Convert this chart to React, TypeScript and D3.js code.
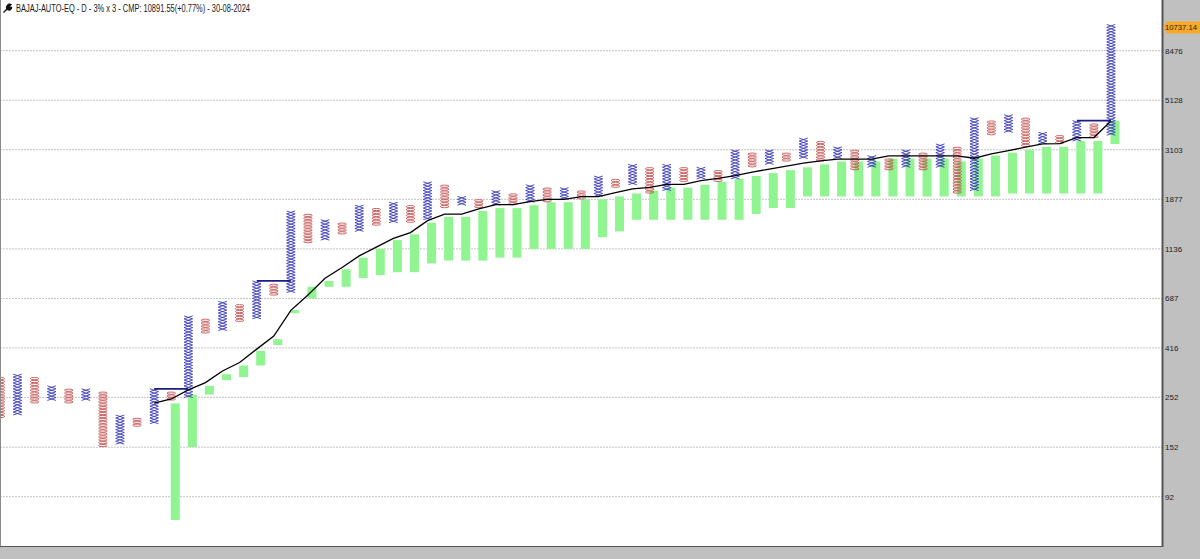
import React from 'react';
import * as d3 from 'd3';

// ---------- data ----------
const TITLE = 'BAJAJ-AUTO-EQ - D - 3% x 3 - CMP: 10891.55(+0.77%) - 30-08-2024';
const BOX_PCT = 3;
const LAST_PRICE = 10737.14;
const LAST_LABEL = '10737.14';
const TICKS = [92, 152, 252, 416, 687, 1136, 1877, 3103, 5128, 8476];

// column types (O = falling, X = rising), one per column
const COL_TYPE = 'OXOXOXOXOXOXOXOXOXOXOXOXOXOXOXOXOXOXOXOXOXOXOXOXOXOXOXOXOXOXOXOXOX';
// lowest and highest box value of every column
const COL_LOW = [
  204.5, 210.7, 237.1, 244.2, 237.1, 244.2, 152.2, 156.7, 187.2, 192.8,
  244.2, 251.5, 482.0, 496.4, 542.4, 558.7, 707.8, 729.0, 1204.9, 1241.1,
  1316.6, 1356.1, 1438.7, 1481.8, 1481.8, 1526.3, 1717.9, 1769.5, 1717.9, 1769.5,
  1769.5, 1822.6, 1822.6, 1877.3, 1877.3, 1933.6, 2112.9, 2176.3, 1991.6, 2051.3,
  2241.6, 2308.8, 2241.6, 2308.8, 2598.5, 2676.5, 2756.8, 2839.5, 2756.8, 2839.5,
  2522.8, 2598.5, 2522.8, 2598.5, 2522.8, 2598.5, 1991.6, 2051.3, 3596.9, 3704.8,
  3195.8, 3291.7, 3291.7, 3390.4, 3492.1, 3596.9,
];
const COL_HIGH = [
  300.3, 309.4, 300.3, 274.9, 266.9, 266.9, 259.1, 204.5, 198.6, 266.9,
  259.1, 558.7, 542.4, 647.7, 628.8, 796.6, 773.4, 1619.3, 1572.1, 1481.8,
  1438.7, 1717.9, 1667.8, 1769.5, 1717.9, 2176.3, 2112.9, 1877.3, 1822.6, 1991.6,
  1933.6, 2112.9, 2051.3, 2051.3, 1991.6, 2308.8, 2241.6, 2598.5, 2522.8, 2598.5,
  2522.8, 2522.8, 2449.3, 3012.4, 2924.6, 3012.4, 2924.6, 3390.4, 3291.7, 3102.8,
  3012.4, 2839.5, 2756.8, 3012.4, 2924.6, 3195.8, 3102.8, 4169.8, 4048.3, 4295.0,
  4169.8, 3596.9, 3492.1, 4048.3, 3930.4, 10737.14,
];

// green band, from column 10 onward
const GREEN_START = 10;
const GREEN_HIGH = [
  237.1, 259.1, 283.1, 318.6, 348.2, 403.6, 454.3, 610.5, 773.4, 820.5,
  923.5, 1039.4, 1135.7, 1241.1, 1316.6, 1481.8, 1572.1, 1572.1, 1667.8, 1717.9,
  1717.9, 1769.5, 1822.6, 1822.6, 1877.3, 1877.3, 1933.6, 1991.6, 2051.3, 2112.9,
  2112.9, 2176.3, 2241.6, 2308.8, 2378.0, 2449.3, 2522.8, 2598.5, 2676.5, 2756.8,
  2756.8, 2756.8, 2839.5, 2839.5, 2839.5, 2839.5, 2756.8, 2839.5, 2924.6, 3012.4,
  3102.8, 3195.8, 3195.8, 3390.4, 3390.4, 4169.8,
];
const GREEN_LOW = [
  72.7, 152.2, 259.1, 300.3, 309.4, 348.2, 428.2, 592.7, 687.2, 773.4,
  773.4, 845.1, 870.5, 896.6, 896.6, 979.7, 1009.1, 1009.1, 1009.1, 1039.4,
  1039.4, 1135.7, 1135.7, 1135.7, 1135.7, 1278.3, 1356.1, 1526.3, 1526.3, 1526.3,
  1526.3, 1526.3, 1526.3, 1526.3, 1619.3, 1717.9, 1717.9, 1933.6, 1933.6, 1933.6,
  1933.6, 1933.6, 1933.6, 1933.6, 1933.6, 1933.6, 1933.6, 1933.6, 1933.6, 1991.6,
  1991.6, 1991.6, 1991.6, 1991.6, 1991.6, 3291.7,
];

// black average line, from column 9 onward
const LINE_START = 9;
const LINE_VALUES = [
  237.4, 247.8, 271.6, 292.5, 329.2, 358.6, 410.9, 469.3, 608.7, 712.0, 842.6,
  940.0, 1058.0, 1156.0, 1263.3, 1340.2, 1512.8, 1614.5, 1614.5, 1702.7, 1780.0,
  1780.0, 1833.4, 1877.3, 1877.3, 1927.9, 1927.9, 2009.3, 2088.0, 2119.2, 2185.0,
  2185.0, 2268.3, 2322.5, 2385.0, 2471.1, 2552.8, 2629.4, 2708.4, 2773.1, 2822.8,
  2822.8, 2822.8, 2915.9, 2915.9, 2915.9, 2915.9, 2915.9, 2847.9, 2976.9, 3075.4,
  3186.4, 3291.7, 3301.4, 3512.8, 3512.8, 4157.5,
];

// breakout lines (from column, to column, level)
const BREAK_FROM = [9, 15, 63];
const BREAK_TO = [11, 17, 65];
const BREAK_LEVEL = [274.85, 820.5, 4169.8];

// ---------- layout ----------
const W = 1200;
const H = 559;
const PLOT_R = 1162;
const PLOT_B = 546;

export default function App() {
  const step = 1 + BOX_PCT / 100;
  const x = d3.scaleLinear().domain([0, COL_TYPE.length - 1]).range([0.4, 1111]);
  const y = d3.scaleLog().domain([92, 8476]).range([496.7, 50.7]);
  const hw = 4.3;

  const glyphs: React.ReactNode[] = [];
  for (let i = 0; i < COL_TYPE.length; i++) {
    const t = COL_TYPE[i];
    const lo = COL_LOW[i];
    const hi = COL_HIGH[i];
    const n = Math.round(Math.log(hi / lo) / Math.log(step)) + 1;
    const xc = x(i);
    if (t === 'X') {
      let d = '';
      for (let b = 0; b < n; b++) {
        const v = lo * Math.pow(step, b);
        const y0 = y(v);
        const y1 = y(v * step);
        d += `M${xc - hw},${y0}L${xc + hw},${y1}M${xc - hw},${y1}L${xc + hw},${y0}`;
      }
      glyphs.push(<path key={'c' + i} d={d} stroke="#3b3bb8" strokeWidth={0.9} fill="none" />);
    } else {
      const rings: React.ReactNode[] = [];
      for (let b = 0; b < n; b++) {
        const v = lo * Math.pow(step, b);
        const y0 = y(v);
        const y1 = y(v * step);
        rings.push(
          <ellipse key={b} cx={xc} cy={(y0 + y1) / 2} rx={hw} ry={Math.max((y0 - y1) / 2 - 0.35, 0.5)}
            stroke="#c24a4a" strokeWidth={0.85} fill="none" />
        );
      }
      glyphs.push(<g key={'c' + i}>{rings}</g>);
    }
  }

  const green = GREEN_HIGH.map((hv, j) => {
    const i = GREEN_START + j;
    const xc = x(i);
    const yt = y(hv);
    const yb = y(GREEN_LOW[j]);
    return <rect key={'g' + i} x={xc - 0.5} y={yt} width={9} height={Math.max(yb - yt, 1)} fill="#90f590" />;
  });

  const line = d3.line<number>()
    .x((_, j) => x(LINE_START + j))
    .y((v) => y(v));

  const lastY = y(LAST_PRICE);

  return (
    <svg width={W} height={H} style={{ position: 'fixed', left: 0, top: 0, display: 'block' }}
      fontFamily="'Liberation Sans', Arial, sans-serif">
      <rect x={0} y={0} width={W} height={H} fill="#c0c0c0" />
      <rect x={0} y={0} width={PLOT_R} height={PLOT_B} fill="#ffffff" />
      {TICKS.map((t) => (
        <line key={'gl' + t} x1={0} x2={PLOT_R} y1={y(t)} y2={y(t)} stroke="#c4c4c4" strokeWidth={1} strokeDasharray="2,1" />
      ))}
      {green}
      {glyphs}
      <path d={line(LINE_VALUES) || ''} stroke="#000" strokeWidth={1.3} fill="none" />
      {BREAK_FROM.map((f, k) => (
        <line key={'b' + k} x1={x(f)} x2={x(BREAK_TO[k])} y1={y(BREAK_LEVEL[k])} y2={y(BREAK_LEVEL[k])}
          stroke="#1c1c86" strokeWidth={1.8} />
      ))}
      {/* frame */}
      <line x1={0.5} x2={0.5} y1={0} y2={PLOT_B} stroke="#8a8a8a" strokeWidth={1} />
      <line x1={PLOT_R + 0.5} x2={PLOT_R + 0.5} y1={0} y2={PLOT_B + 1} stroke="#555" strokeWidth={2} />
      <line x1={0} x2={PLOT_R} y1={PLOT_B + 0.5} y2={PLOT_B + 0.5} stroke="#555" strokeWidth={1} />
      {/* axis labels */}
      {TICKS.map((t) => (
        <text key={'tl' + t} x={1165} y={y(t) + 3} fontSize={8} fill="#222">{t}</text>
      ))}
      {/* last price tag */}
      <path d={`M${PLOT_R + 1},${lastY} L${PLOT_R + 5},${lastY - 6} L${W},${lastY - 6} L${W},${lastY + 6} L${PLOT_R + 5},${lastY + 6} Z`} fill="#f7a826" />
      <text x={1165} y={lastY + 3} fontSize={8} fill="#222" textLength={32} lengthAdjust="spacingAndGlyphs">{LAST_LABEL}</text>
      {/* title */}
      <path d="M3.5,12.5 L8.5,7.5 M7.5,5.5 a2.5,2.5 0 1 0 4,2 L10,7.5 L9.5,6 L11,4.5 a2.5,2.5 0 0 0 -3.5,1z"
        stroke="#111" strokeWidth={1.4} fill="#111" />
      <text x={16} y={11.5} fontSize={10} fill="#1a1a1a" textLength={234} lengthAdjust="spacingAndGlyphs">{TITLE}</text>
    </svg>
  );
}
